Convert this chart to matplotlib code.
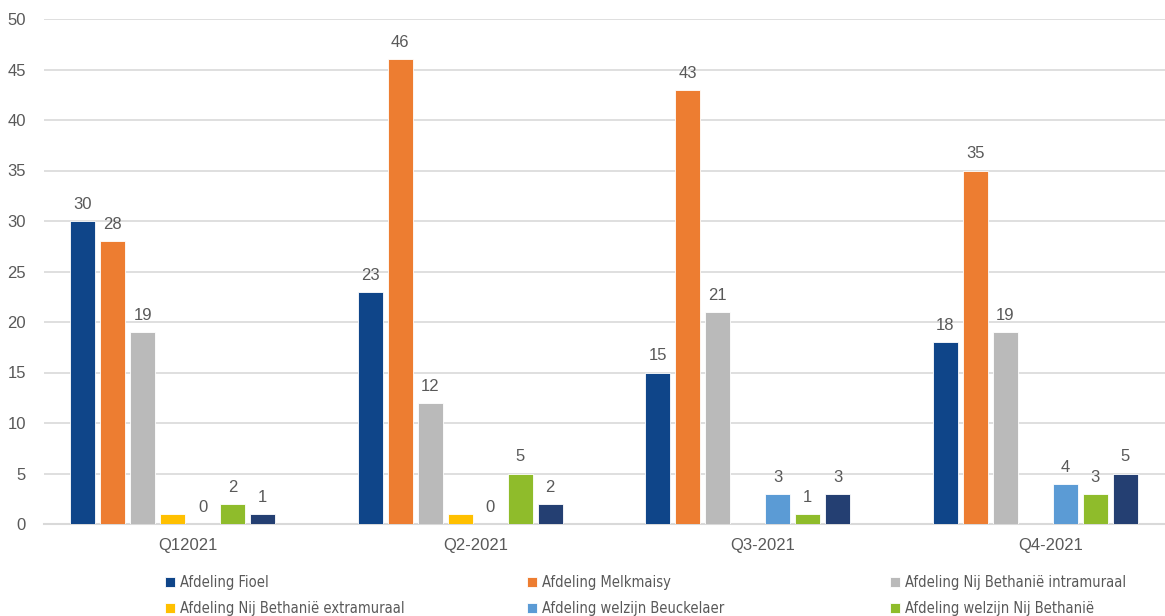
import matplotlib
matplotlib.use("Agg")
import matplotlib.pyplot as plt
from matplotlib.font_manager import FontProperties
import numpy as np

categories = ["Q12021", "Q2-2021", "Q3-2021", "Q4-2021"]
series_names = [
    "Afdeling Fioel",
    "Afdeling Melkmaisy",
    "Afdeling Nij Bethanië intramuraal",
    "Afdeling Nij Bethanië extramuraal",
    "Afdeling welzijn Beuckelaer",
    "Afdeling welzijn Nij Bethanië",
    "Afdeling (overig)",
]
fioel = [30, 23, 15, 18]
melkmaisy = [28, 46, 43, 35]
intramuraal = [19, 12, 21, 19]
extramuraal = [1, 1, None, None]
beuckelaer = [0, 0, 3, 4]
welzijn_nb = [2, 5, 1, 3]
overig = [1, 2, 3, 5]
show_labels = [True, True, True, False, True, True, True]

colors = ["#0f4589", "#ed7d31", "#bababa", "#ffc000", "#5b9bd5", "#8fbc2b", "#243f72"]
all_series = [fioel, melkmaisy, intramuraal, extramuraal, beuckelaer, welzijn_nb, overig]

W, H = 1165, 616
fig = plt.figure(figsize=(W / 100, H / 100), dpi=100)
ax = fig.add_axes([44 / W, 1 - 524 / H, 1150 / W, (524 - 19) / H])

nslots = 8
pitch = 30 / 287.5
bw = 25 / 287.5
x = np.arange(len(categories))
label_color = "#595959"
num_font = ["Liberation Sans", "DejaVu Sans"]
handles = []
for i, (vals, c, name) in enumerate(zip(all_series, colors, series_names)):
    off = (i - (nslots - 1) / 2) * pitch
    v = [np.nan if a is None else a for a in vals]
    b = ax.bar(x + off, v, width=bw, color=c, edgecolor="white", linewidth=0.6, label=name, zorder=3)
    handles.append(b)
    if show_labels[i]:
        for xi, val in zip(x, vals):
            if val is None:
                continue
            ax.text(xi + off, val + 0.9, f"{val}", ha="center", va="bottom",
                    fontsize=12, color=label_color, family=num_font)

ax.set_xlim(-0.5, len(categories) - 0.5)
ax.set_ylim(0, 50)
ax.set_yticks(range(0, 51, 5))
ax.set_xticks(x)
ax.set_xticklabels(categories)
ax.tick_params(axis="both", length=0, labelsize=12, colors=label_color)
ax.tick_params(axis="y", pad=13)
ax.tick_params(axis="x", pad=10)
for t in ax.get_xticklabels() + ax.get_yticklabels():
    t.set_family(num_font)
ax.grid(axis="y", color="#d9d9d9", linewidth=1.2, zorder=0)
for s in ["top", "right", "left"]:
    ax.spines[s].set_visible(False)
ax.spines["bottom"].set_color("#d9d9d9")
ax.spines["bottom"].set_linewidth(1.5)

leg_font = FontProperties(family=["DejaVu Sans"], stretch="condensed", size=10.5)
cols_x = [165, 527, 890]
groups = [[0, 3], [1, 4], [2, 5]]
for cx, g in zip(cols_x, groups):
    lg = fig.legend([handles[k] for k in g], [series_names[k] for k in g],
                    loc="upper left", bbox_to_anchor=(cx / W, 1 - 575 / H),
                    frameon=False, prop=leg_font, handlelength=0.7, handleheight=0.7,
                    handletextpad=0.3, labelspacing=0.75, borderaxespad=0, borderpad=0)
    for t in lg.get_texts():
        t.set_color(label_color)

fig.savefig("out.png", dpi=100)
